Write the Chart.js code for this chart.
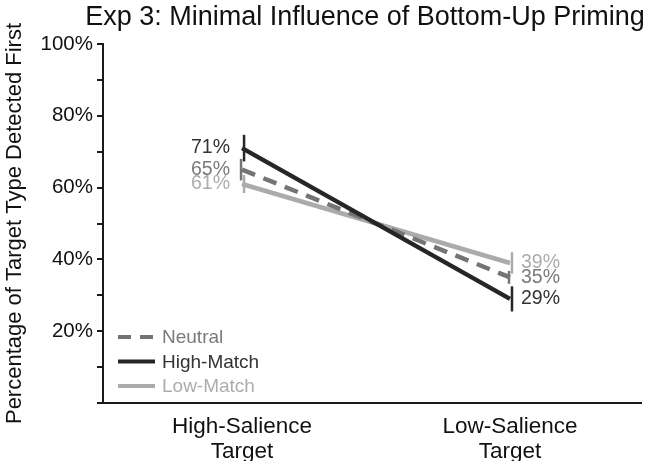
<!DOCTYPE html>
<html>
<head>
<meta charset="utf-8">
<script src="https://cdn.jsdelivr.net/npm/chart.js@4"></script>
<style>
  html, body { margin: 0; padding: 0; background: #fff; }
  #wrap { width: 646px; height: 461px; }
</style>
</head>
<body>
<div id="wrap"><canvas id="chart" width="646" height="461"></canvas></div>
<script>
// data
const categories = [['High-Salience', 'Target'], ['Low-Salience', 'Target']];
const seriesNames = ['High-Match', 'Neutral', 'Low-Match'];
const highMatch = [71, 29];
const neutral = [65, 35];
const lowMatch = [61, 39];
const highMatchErr = [3.7, 3.5];
const neutralErr = [3, 1.8];
const lowMatchErr = [2.5, 3];
const yTickValues = [0, 10, 20, 30, 40, 50, 60, 70, 80, 90, 100];
const yLabelled = [20, 40, 60, 80, 100];

const titleText = 'Exp 3: Minimal Influence of Bottom-Up Priming';
const yTitle = 'Percentage of Target Type Detected First';

const FONT = '"Liberation Sans", Arial, sans-serif';
const colors = { 'High-Match': '#262626', 'Neutral': '#747474', 'Low-Match': '#ababab' };
const labelColors = { 'High-Match': '#333333', 'Neutral': '#7a7a7a', 'Low-Match': '#adadad' };
const errOffset = { 'High-Match': 2, 'Neutral': -1, 'Low-Match': 2 };

function pts(arr) {
  return arr.map((v, i) => ({ x: i, y: v }));
}

const datasets = [
  { label: 'High-Match', data: pts(highMatch), err: highMatchErr, borderColor: colors['High-Match'], borderWidth: 4.5 },
  { label: 'Neutral', data: pts(neutral), err: neutralErr, borderColor: colors['Neutral'], borderWidth: 4.5, borderDash: [14, 9] },
  { label: 'Low-Match', data: pts(lowMatch), err: lowMatchErr, borderColor: colors['Low-Match'], borderWidth: 4.5 }
];
datasets.forEach(d => { d.pointRadius = 0; d.fill = false; d.tension = 0; });

const extras = {
  id: 'extras',
  afterDatasetsDraw(chart) {
    const ctx = chart.ctx;
    const xs = chart.scales.x, ys = chart.scales.y;
    const area = chart.chartArea;
    ctx.save();
    // error bars + value labels
    chart.data.datasets.forEach(ds => {
      ds.data.forEach((p, i) => {
        const px = xs.getPixelForValue(p.x) + errOffset[ds.label];
        const top = ys.getPixelForValue(p.y + ds.err[i]);
        const bot = ys.getPixelForValue(p.y - ds.err[i]);
        ctx.strokeStyle = ds.borderColor;
        ctx.lineWidth = 2.5;
        ctx.setLineDash([]);
        ctx.beginPath();
        ctx.moveTo(px, top);
        ctx.lineTo(px, bot);
        ctx.stroke();

        const cx = xs.getPixelForValue(p.x);
        const cy = ys.getPixelForValue(p.y);
        ctx.font = '19.5px ' + FONT;
        ctx.fillStyle = labelColors[ds.label];
        ctx.textBaseline = 'middle';
        if (i === 0) {
          ctx.textAlign = 'right';
          ctx.fillText(p.y + '%', cx - 12, cy);
        } else {
          ctx.textAlign = 'left';
          ctx.fillText(p.y + '%', cx + 11, cy);
        }
      });
    });

    // legend inside plot, bottom left
    const order = ['Neutral', 'High-Match', 'Low-Match'];
    order.forEach((name, k) => {
      const y = area.bottom - 66 + k * 24.5;
      const x0 = area.left + 15;
      ctx.strokeStyle = colors[name];
      ctx.lineWidth = 4;
      ctx.setLineDash(name === 'Neutral' ? [13, 9] : []);
      ctx.beginPath();
      ctx.moveTo(x0, y);
      ctx.lineTo(x0 + 37, y);
      ctx.stroke();
      ctx.setLineDash([]);
      ctx.font = '19px ' + FONT;
      ctx.fillStyle = labelColors[name];
      ctx.textAlign = 'left';
      ctx.textBaseline = 'middle';
      ctx.fillText(name, x0 + 44, y + 1);
    });

    // title
    ctx.font = '27px ' + FONT;
    ctx.fillStyle = '#111';
    ctx.textAlign = 'center';
    ctx.textBaseline = 'middle';
    ctx.fillText(titleText, 365, 18);
    ctx.restore();
  }
};

new Chart(document.getElementById('chart'), {
  type: 'line',
  data: { datasets: datasets },
  options: {
    responsive: false,
    animation: false,
    devicePixelRatio: 1,
    layout: { padding: { top: 44, right: 5, left: 0, bottom: 0 } },
    plugins: {
      legend: { display: false },
      title: { display: false },
      tooltip: { enabled: false }
    },
    scales: {
      x: {
        type: 'linear',
        min: -0.519,
        max: 1.489,
        afterBuildTicks: s => { s.ticks = [{ value: 0 }, { value: 1 }]; },
        afterFit: s => { s.height = 58; },
        ticks: {
          autoSkip: false,
          maxRotation: 0,
          padding: 3,
          color: '#111',
          font: { family: FONT, size: 22.5, lineHeight: 1.11 },
          callback: v => categories[v]
        },
        grid: { display: false },
        border: { display: true, color: '#1a1a1a', width: 2 }
      },
      y: {
        type: 'linear',
        min: 0,
        max: 100,
        afterBuildTicks: s => { s.ticks = yTickValues.map(v => ({ value: v })); },
        afterFit: s => { s.width = 103; },
        ticks: {
          padding: 4,
          color: '#111',
          font: { family: FONT, size: 20.5 },
          callback: v => yLabelled.includes(v) ? v + '%' : ''
        },
        grid: { drawOnChartArea: false, drawTicks: true, tickLength: 6, color: '#1a1a1a', lineWidth: 2 },
        border: { display: true, color: '#1a1a1a', width: 2 },
        title: {
          display: true,
          text: yTitle,
          color: '#111',
          font: { family: FONT, size: 22, lineHeight: 1.2 },
          padding: { top: 2, bottom: 0 }
        }
      }
    }
  },
  plugins: [extras]
});
</script>
</body>
</html>
